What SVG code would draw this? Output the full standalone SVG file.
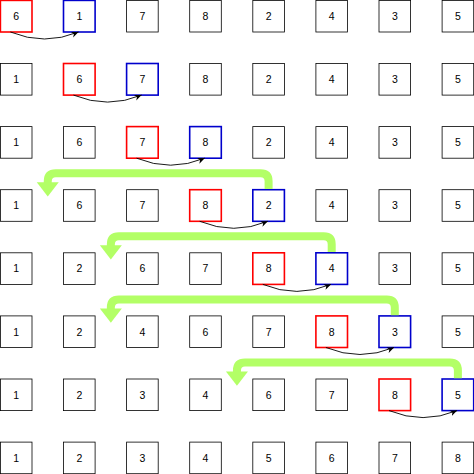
<svg xmlns="http://www.w3.org/2000/svg" width="474" height="474" viewBox="0 0 474 474">
<style>
rect{fill:#fff;stroke:#000;stroke-width:0.8}
rect.r{stroke:#ff0000;stroke-width:1.6}
rect.b{stroke:#0000cc;stroke-width:1.6}
text{font-family:"Liberation Sans",Arial,sans-serif;font-size:10.5px;fill:#000;text-anchor:middle}
.sw{fill:none;stroke:#000;stroke-width:0.9;marker-end:url(#ah)}
.g{fill:none;stroke:#b3ff66;stroke-width:8}
.gh{fill:#b3ff66}
</style>
<defs>
<marker id="ah" markerUnits="userSpaceOnUse" markerWidth="8" markerHeight="7" refX="7" refY="3" orient="auto">
<path d="M0,0 L7,3 L0,6 L2,3 z" fill="#000"/>
</marker>
</defs>
<g id="row0">
<g id="n0_0"><rect class="r" x="0.4" y="0.4" width="31.6" height="31.6"/><text x="16.2" y="20">6</text></g>
<g id="n0_1"><rect class="b" x="63.5" y="0.4" width="31.6" height="31.6"/><text x="79.3" y="20">1</text></g>
<g id="n0_2"><rect x="126.6" y="0.4" width="31.6" height="31.6"/><text x="142.4" y="20">7</text></g>
<g id="n0_3"><rect x="189.7" y="0.4" width="31.6" height="31.6"/><text x="205.5" y="20">8</text></g>
<g id="n0_4"><rect x="252.8" y="0.4" width="31.6" height="31.6"/><text x="268.6" y="20">2</text></g>
<g id="n0_5"><rect x="315.9" y="0.4" width="31.6" height="31.6"/><text x="331.7" y="20">4</text></g>
<g id="n0_6"><rect x="379" y="0.4" width="31.6" height="31.6"/><text x="394.8" y="20">3</text></g>
<g id="n0_7"><rect x="442.1" y="0.4" width="31.6" height="31.6"/><text x="457.9" y="20">5</text></g>
</g>
<g id="row1">
<g id="n1_0"><rect x="0.4" y="63.5" width="31.6" height="31.6"/><text x="16.2" y="83.1">1</text></g>
<g id="n1_1"><rect class="r" x="63.5" y="63.5" width="31.6" height="31.6"/><text x="79.3" y="83.1">6</text></g>
<g id="n1_2"><rect class="b" x="126.6" y="63.5" width="31.6" height="31.6"/><text x="142.4" y="83.1">7</text></g>
<g id="n1_3"><rect x="189.7" y="63.5" width="31.6" height="31.6"/><text x="205.5" y="83.1">8</text></g>
<g id="n1_4"><rect x="252.8" y="63.5" width="31.6" height="31.6"/><text x="268.6" y="83.1">2</text></g>
<g id="n1_5"><rect x="315.9" y="63.5" width="31.6" height="31.6"/><text x="331.7" y="83.1">4</text></g>
<g id="n1_6"><rect x="379" y="63.5" width="31.6" height="31.6"/><text x="394.8" y="83.1">3</text></g>
<g id="n1_7"><rect x="442.1" y="63.5" width="31.6" height="31.6"/><text x="457.9" y="83.1">5</text></g>
</g>
<g id="row2">
<g id="n2_0"><rect x="0.4" y="126.6" width="31.6" height="31.6"/><text x="16.2" y="146.2">1</text></g>
<g id="n2_1"><rect x="63.5" y="126.6" width="31.6" height="31.6"/><text x="79.3" y="146.2">6</text></g>
<g id="n2_2"><rect class="r" x="126.6" y="126.6" width="31.6" height="31.6"/><text x="142.4" y="146.2">7</text></g>
<g id="n2_3"><rect class="b" x="189.7" y="126.6" width="31.6" height="31.6"/><text x="205.5" y="146.2">8</text></g>
<g id="n2_4"><rect x="252.8" y="126.6" width="31.6" height="31.6"/><text x="268.6" y="146.2">2</text></g>
<g id="n2_5"><rect x="315.9" y="126.6" width="31.6" height="31.6"/><text x="331.7" y="146.2">4</text></g>
<g id="n2_6"><rect x="379" y="126.6" width="31.6" height="31.6"/><text x="394.8" y="146.2">3</text></g>
<g id="n2_7"><rect x="442.1" y="126.6" width="31.6" height="31.6"/><text x="457.9" y="146.2">5</text></g>
</g>
<g id="row3">
<g id="n3_0"><rect x="0.4" y="189.7" width="31.6" height="31.6"/><text x="16.2" y="209.3">1</text></g>
<g id="n3_1"><rect x="63.5" y="189.7" width="31.6" height="31.6"/><text x="79.3" y="209.3">6</text></g>
<g id="n3_2"><rect x="126.6" y="189.7" width="31.6" height="31.6"/><text x="142.4" y="209.3">7</text></g>
<g id="n3_3"><rect class="r" x="189.7" y="189.7" width="31.6" height="31.6"/><text x="205.5" y="209.3">8</text></g>
<g id="n3_4"><rect class="b" x="252.8" y="189.7" width="31.6" height="31.6"/><text x="268.6" y="209.3">2</text></g>
<g id="n3_5"><rect x="315.9" y="189.7" width="31.6" height="31.6"/><text x="331.7" y="209.3">4</text></g>
<g id="n3_6"><rect x="379" y="189.7" width="31.6" height="31.6"/><text x="394.8" y="209.3">3</text></g>
<g id="n3_7"><rect x="442.1" y="189.7" width="31.6" height="31.6"/><text x="457.9" y="209.3">5</text></g>
</g>
<g id="row4">
<g id="n4_0"><rect x="0.4" y="252.8" width="31.6" height="31.6"/><text x="16.2" y="272.4">1</text></g>
<g id="n4_1"><rect x="63.5" y="252.8" width="31.6" height="31.6"/><text x="79.3" y="272.4">2</text></g>
<g id="n4_2"><rect x="126.6" y="252.8" width="31.6" height="31.6"/><text x="142.4" y="272.4">6</text></g>
<g id="n4_3"><rect x="189.7" y="252.8" width="31.6" height="31.6"/><text x="205.5" y="272.4">7</text></g>
<g id="n4_4"><rect class="r" x="252.8" y="252.8" width="31.6" height="31.6"/><text x="268.6" y="272.4">8</text></g>
<g id="n4_5"><rect class="b" x="315.9" y="252.8" width="31.6" height="31.6"/><text x="331.7" y="272.4">4</text></g>
<g id="n4_6"><rect x="379" y="252.8" width="31.6" height="31.6"/><text x="394.8" y="272.4">3</text></g>
<g id="n4_7"><rect x="442.1" y="252.8" width="31.6" height="31.6"/><text x="457.9" y="272.4">5</text></g>
</g>
<g id="row5">
<g id="n5_0"><rect x="0.4" y="315.9" width="31.6" height="31.6"/><text x="16.2" y="335.5">1</text></g>
<g id="n5_1"><rect x="63.5" y="315.9" width="31.6" height="31.6"/><text x="79.3" y="335.5">2</text></g>
<g id="n5_2"><rect x="126.6" y="315.9" width="31.6" height="31.6"/><text x="142.4" y="335.5">4</text></g>
<g id="n5_3"><rect x="189.7" y="315.9" width="31.6" height="31.6"/><text x="205.5" y="335.5">6</text></g>
<g id="n5_4"><rect x="252.8" y="315.9" width="31.6" height="31.6"/><text x="268.6" y="335.5">7</text></g>
<g id="n5_5"><rect class="r" x="315.9" y="315.9" width="31.6" height="31.6"/><text x="331.7" y="335.5">8</text></g>
<g id="n5_6"><rect class="b" x="379" y="315.9" width="31.6" height="31.6"/><text x="394.8" y="335.5">3</text></g>
<g id="n5_7"><rect x="442.1" y="315.9" width="31.6" height="31.6"/><text x="457.9" y="335.5">5</text></g>
</g>
<g id="row6">
<g id="n6_0"><rect x="0.4" y="379" width="31.6" height="31.6"/><text x="16.2" y="398.6">1</text></g>
<g id="n6_1"><rect x="63.5" y="379" width="31.6" height="31.6"/><text x="79.3" y="398.6">2</text></g>
<g id="n6_2"><rect x="126.6" y="379" width="31.6" height="31.6"/><text x="142.4" y="398.6">3</text></g>
<g id="n6_3"><rect x="189.7" y="379" width="31.6" height="31.6"/><text x="205.5" y="398.6">4</text></g>
<g id="n6_4"><rect x="252.8" y="379" width="31.6" height="31.6"/><text x="268.6" y="398.6">6</text></g>
<g id="n6_5"><rect x="315.9" y="379" width="31.6" height="31.6"/><text x="331.7" y="398.6">7</text></g>
<g id="n6_6"><rect class="r" x="379" y="379" width="31.6" height="31.6"/><text x="394.8" y="398.6">8</text></g>
<g id="n6_7"><rect class="b" x="442.1" y="379" width="31.6" height="31.6"/><text x="457.9" y="398.6">5</text></g>
</g>
<g id="row7">
<g id="n7_0"><rect x="0.4" y="442.1" width="31.6" height="31.6"/><text x="16.2" y="461.7">1</text></g>
<g id="n7_1"><rect x="63.5" y="442.1" width="31.6" height="31.6"/><text x="79.3" y="461.7">2</text></g>
<g id="n7_2"><rect x="126.6" y="442.1" width="31.6" height="31.6"/><text x="142.4" y="461.7">3</text></g>
<g id="n7_3"><rect x="189.7" y="442.1" width="31.6" height="31.6"/><text x="205.5" y="461.7">4</text></g>
<g id="n7_4"><rect x="252.8" y="442.1" width="31.6" height="31.6"/><text x="268.6" y="461.7">5</text></g>
<g id="n7_5"><rect x="315.9" y="442.1" width="31.6" height="31.6"/><text x="331.7" y="461.7">6</text></g>
<g id="n7_6"><rect x="379" y="442.1" width="31.6" height="31.6"/><text x="394.8" y="461.7">7</text></g>
<g id="n7_7"><rect x="442.1" y="442.1" width="31.6" height="31.6"/><text x="457.9" y="461.7">8</text></g>
</g>
<g id="connectors">
<path class="sw" d="M10.4,32 Q44.5,46 78.5,32"/>
<path class="sw" d="M73.5,95.1 Q107.6,109.1 141.6,95.1"/>
<path class="sw" d="M136.6,158.2 Q170.7,172.2 204.7,158.2"/>
<path class="sw" d="M199.7,221.3 Q233.8,235.3 267.8,221.3"/>
<path class="sw" d="M262.8,284.4 Q296.9,298.4 330.9,284.4"/>
<path class="sw" d="M325.9,347.5 Q360,361.5 394,347.5"/>
<path class="sw" d="M389,410.6 Q423.1,424.6 457.1,410.6"/>
<path class="g" d="M268.6,189 V181.2 Q268.6,173.2 260.6,173.2 H55.75 Q47.75,173.2 47.75,181.2 V184"/>
<polygon class="gh" points="36.75,182.2 58.75,182.2 47.75,196.5"/>
<path class="g" d="M331.7,252.1 V244.3 Q331.7,236.3 323.7,236.3 H118.85 Q110.85,236.3 110.85,244.3 V247"/>
<polygon class="gh" points="99.85,245.3 121.85,245.3 110.85,259.6"/>
<path class="g" d="M394.8,315.2 V307.4 Q394.8,299.4 386.8,299.4 H118.85 Q110.85,299.4 110.85,307.4 V310"/>
<polygon class="gh" points="99.85,308.4 121.85,308.4 110.85,322.7"/>
<path class="g" d="M457.9,378.3 V370.5 Q457.9,362.5 449.9,362.5 H244.95 Q236.95,362.5 236.95,370.5 V373"/>
<polygon class="gh" points="225.95,371.5 247.95,371.5 236.95,385.8"/>
</g>
</svg>
